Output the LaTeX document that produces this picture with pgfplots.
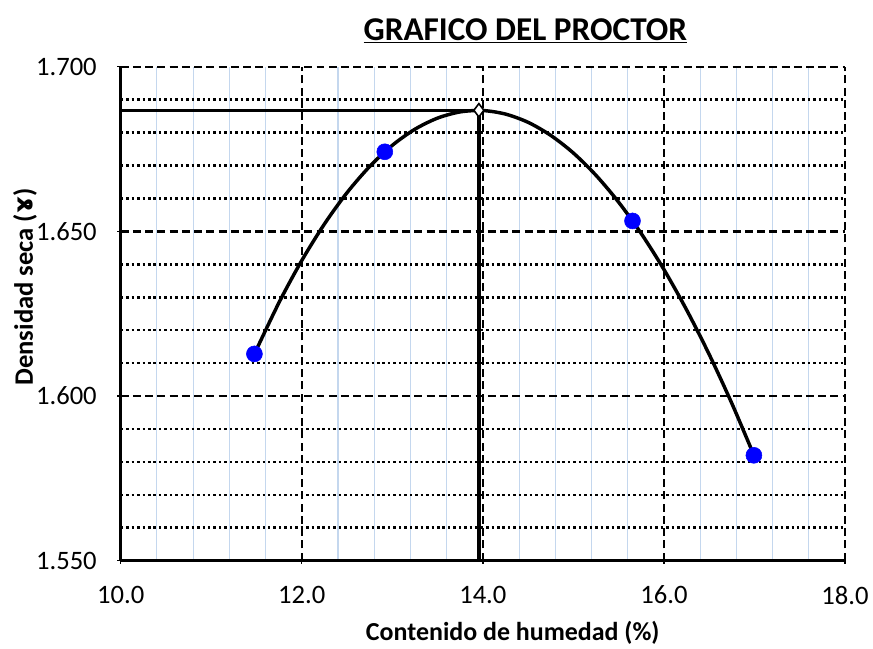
\documentclass[border=0pt]{standalone}
\usepackage{pgfplots}
\pgfplotsset{compat=1.18}
\usepackage{fontspec}
\setmainfont{Carlito}
\newfontfamily\dejavu{DejaVu Sans}
\definecolor{minorblue}{RGB}{196,215,238}
\begin{document}
\begin{tikzpicture}
\begin{axis}[
  scale only axis,
  width=544.5pt, height=371.25pt,
  xmin=10, xmax=18, ymin=1.55, ymax=1.70,
  xtick={10,12,14,16,18},
  ytick={1.55,1.60,1.65,1.70},
  minor x tick num=4,
  minor y tick num=4,
  minor tick length=0pt,
  major tick length=5pt,
  tick align=outside,
  tick style={black, line width=1pt},
  axis lines=left,
  axis line style={-, black, line width=2pt},
  clip=false,
  grid=both,
  major grid style={black, line width=1.9pt, dash pattern=on 6pt off 3.2pt},
  minor x grid style={minorblue, line width=0.8pt, solid},
  minor y grid style={black, line width=1.9pt, dash pattern=on 1.9pt off 2.2pt},
  /pgf/number format/assume math mode=true,
  xticklabel={\pgfmathprintnumber[fixed,precision=1,zerofill]{\tick}},
  yticklabel={\pgfmathprintnumber[fixed,precision=3,zerofill]{\tick}},
  ticklabel style={font=\fontsize{20}{24}\selectfont},
  xticklabel style={yshift=-13pt},
  yticklabel style={xshift=-12pt},
]
\addplot[only marks, mark=*, mark size=6pt, mark options={fill=blue, draw=blue}]
  coordinates {(11.477,1.6128) (12.917,1.6742) (15.653,1.6532) (16.994,1.5820)};
\addplot[black, line width=2.6pt] coordinates {(10,1.6868) (13.956,1.6868)};
\addplot[black, line width=2.6pt] coordinates {(13.956,1.6868) (13.956,1.55)};
\addplot[black, line width=2.6pt, smooth] coordinates {
(11.477,1.61280) (11.75,1.62848) (12.00,1.64117) (12.25,1.65226) (12.50,1.66178)
(12.75,1.66974) (13.00,1.67616) (13.25,1.68105) (13.50,1.68443) (13.75,1.68631)
(14.00,1.68672) (14.25,1.68565) (14.50,1.68314) (14.75,1.67918) (15.00,1.67382)
(15.25,1.66704) (15.50,1.65888) (15.75,1.64934) (16.00,1.63845) (16.25,1.62621)
(16.50,1.61265) (16.75,1.59778) (16.994,1.58201)};
\addplot[only marks, mark=diamond*, mark size=5pt, mark options={fill=white, draw=black, line width=1.2pt}]
  coordinates {(13.956,1.6868)};
\node[font=\bfseries\fontsize{25}{30}\selectfont, anchor=center] at ([yshift=27pt]axis cs:14.47,1.70) {\underline{GRAFICO DEL PROCTOR}};
\node[font=\bfseries\fontsize{19.5}{24}\selectfont, anchor=center] at ([yshift=-54pt]axis cs:14.33,1.55) {Contenido de humedad (\%)};
\node[font=\bfseries\fontsize{20}{24}\selectfont, anchor=center, rotate=90] at ([xshift=-72pt]axis cs:10,1.6331) {Densidad seca ({\dejavu ɤ})};
\end{axis}
\path (current axis.south west) ++(0,0) coordinate (o);
\path[draw=none] ([shift={(-90.75pt,-63pt)}]o) rectangle ([shift={(564pt,421.5pt)}]o);
\end{tikzpicture}
\end{document}
